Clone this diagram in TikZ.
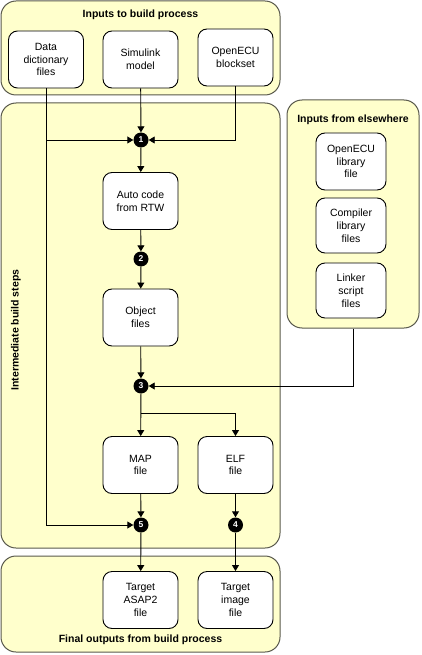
\documentclass[tikz,border=0pt]{standalone}
\usepackage{fontspec}
\setmainfont{Liberation Sans}
\usepackage{xcolor}
\usepackage{tikz}
\usetikzlibrary {arrows.meta}
\definecolor{paleyellow}{rgb}{1.0, 1.0, 0.8}
\definecolor{groupline}{rgb}{0.35, 0.35, 0.3}

\begin{document}
\begin{tikzpicture}[x=1pt, y=-1pt,
  font=\fontsize{10.5}{12.8}\selectfont,
  group/.style={draw=groupline, fill=paleyellow, rounded corners=15pt, line width=1pt},
  title/.style={font=\fontsize{10.5}{12}\selectfont\bfseries},
  box/.style={draw, fill=white, rounded corners=9pt, minimum width=75pt, minimum height=57pt, align=center, line width=0.9pt},
  smallbox/.style={box, minimum width=70pt, minimum height=55pt},
  num/.style={circle, fill=black, text=white, inner sep=0pt, minimum size=15pt, font=\fontsize{8.5}{8.5}\selectfont\bfseries},
  flow/.style={-{Triangle[length=6pt,width=7pt]}, line width=0.9pt}]

\useasboundingbox (0,0) rectangle (421,655);

% groups
\node (gin) at (140.5,48) [group, minimum width=279pt, minimum height=94pt]{};
\node (gmid) at (140.5,325.5) [group, minimum width=279pt, minimum height=445pt]{};
\node (gout) at (140.5,604) [group, minimum width=279pt, minimum height=96pt]{};
\node (gext) at (353,214) [group, minimum width=132pt, minimum height=228pt]{};

\node (tin) at (140.5,15) [title]{Inputs to build process};
\node (tmid) at (16,330) [title, rotate=90]{Intermediate build steps};
\node (tout) at (140.5,640) [title]{Final outputs from build process};
\node (text) at (353,120) [title]{Inputs from elsewhere};

% inputs
\node (dd) at (46,59.5) [box]{Data\\dictionary\\files};
\node (sim) at (140.5,59.5) [box]{Simulink\\model};
\node (oe) at (235.5,57.5) [box]{OpenECU\\blockset};

% other inputs
\node (lib) at (351,161.5) [smallbox, minimum height=57pt]{OpenECU\\library\\file};
\node (comp) at (351,225.5) [smallbox]{Compiler\\library\\files};
\node (link) at (351,290.5) [smallbox]{Linker\\script\\files};

% steps
\node (c1) at (141,140) [num]{1};
\node (auto) at (140.5,201) [box]{Auto code\\from RTW};
\node (c2) at (141,259) [num]{2};
\node (obj) at (140.5,317.5) [box]{Object\\files};
\node (c3) at (141,386) [num]{3};
\coordinate (split) at (141,413);
\node (map) at (140.5,465) [box]{MAP\\file};
\node (elf) at (235.5,465) [box]{ELF\\file};
\node (c5) at (141,525) [num]{5};
\node (c4) at (235.5,525) [num]{4};

% outputs
\node (asap) at (140.5,600) [box]{Target\\ASAP2\\file};
\node (img) at (235.5,600) [box]{Target\\image\\file};

\draw[flow] (sim) -- (c1);
\draw[flow] (dd.south) |- (c1);
\draw[flow] (oe.south) |- (c1);
\draw[flow] (c1) -- (auto);
\draw[flow] (auto) -- (c2);
\draw[flow] (c2) -- (obj);
\draw[flow] (obj) -- (c3);
\draw[flow] (gext.south) |- (c3);
\draw[flow] (c3) -- (map);
\draw[flow] (split) -| (elf);
\draw[flow] (dd.south) |- (c5);
\draw[flow] (map) -- (c5);
\draw[flow] (elf) -- (c4);
\draw[flow] (c5) -- (asap);
\draw[flow] (c4) -- (img);

\end{tikzpicture}
\end{document}
